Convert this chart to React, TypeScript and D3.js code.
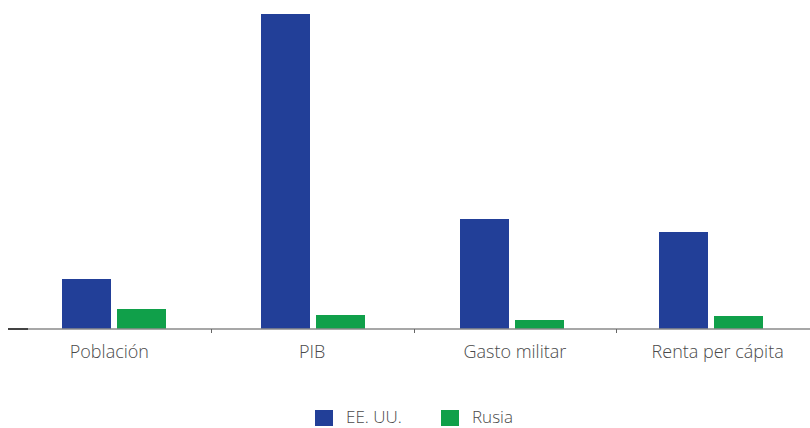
import React, { useEffect } from "react";
import * as d3 from "d3";

const categories = ["Población", "PIB", "Gasto militar", "Renta per cápita"];
const seriesNames = ["EE. UU.", "Rusia"];
const usaValues = [50, 315, 110, 97];
const russiaValues = [20, 14, 9, 13];
const colors = ["#223F98", "#10A04A"];

const W = 810;
const H = 428;
const baseY = 329;
const topY = 14;

export default function App() {
  useEffect(() => {
    document.body.style.margin = "0";
  }, []);

  // axis bands (ticks and labels)
  const x = d3.scaleBand<string>().domain(categories).range([8, 819]);
  // bar groups
  const xBars = d3.scaleBand<string>().domain(categories).range([62, 62 + 4 * 199]);
  const inner = d3
    .scaleBand<string>()
    .domain(seriesNames)
    .range([0, 104])
    .paddingInner(6 / 55);
  const y = d3.scaleLinear().domain([0, 315]).range([baseY, topY]);
  const series = [usaValues, russiaValues];
  const font = "'Open Sans', 'Noto Sans', sans-serif";

  return (
    <svg width={W} height={H} style={{ display: "block" }}>
      {series.map((vals, si) =>
        categories.map((c, ci) => {
          const bx = (xBars(c) as number) + (inner(seriesNames[si]) as number);
          return (
            <rect
              key={`${si}-${ci}`}
              x={bx}
              y={y(vals[ci])}
              width={inner.bandwidth()}
              height={baseY - y(vals[ci])}
              fill={colors[si]}
            />
          );
        })
      )}
      <line x1={8} x2={810} y1={baseY} y2={baseY} stroke="#8a8a8a" strokeWidth={1.5} />
      <line x1={8} x2={28} y1={baseY} y2={baseY} stroke="#222" strokeWidth={1.5} />
      {categories.slice(1).map((c) => (
        <line
          key={c}
          x1={Math.round(x(c) as number) + 0.5}
          x2={Math.round(x(c) as number) + 0.5}
          y1={baseY}
          y2={baseY + 4}
          stroke="#666"
          strokeWidth={1}
        />
      ))}
      {categories.map((c) => (
        <text
          key={c}
          x={(x(c) as number) + x.bandwidth() / 2}
          y={358}
          textAnchor="middle"
          fontFamily={font}
          fontWeight={300}
          fontSize={18}
          fill="#4a4a4a"
        >
          {c}
        </text>
      ))}
      {seriesNames.map((s, i) => {
        const lx = [315, 441][i];
        return (
          <g key={s}>
            <rect x={lx} y={410} width={18} height={16} fill={colors[i]} />
            <text
              x={lx + 31}
              y={423}
              fontFamily={font}
              fontWeight={300}
              fontSize={17}
              fill="#4a4a4a"
            >
              {s}
            </text>
          </g>
        );
      })}
    </svg>
  );
}
